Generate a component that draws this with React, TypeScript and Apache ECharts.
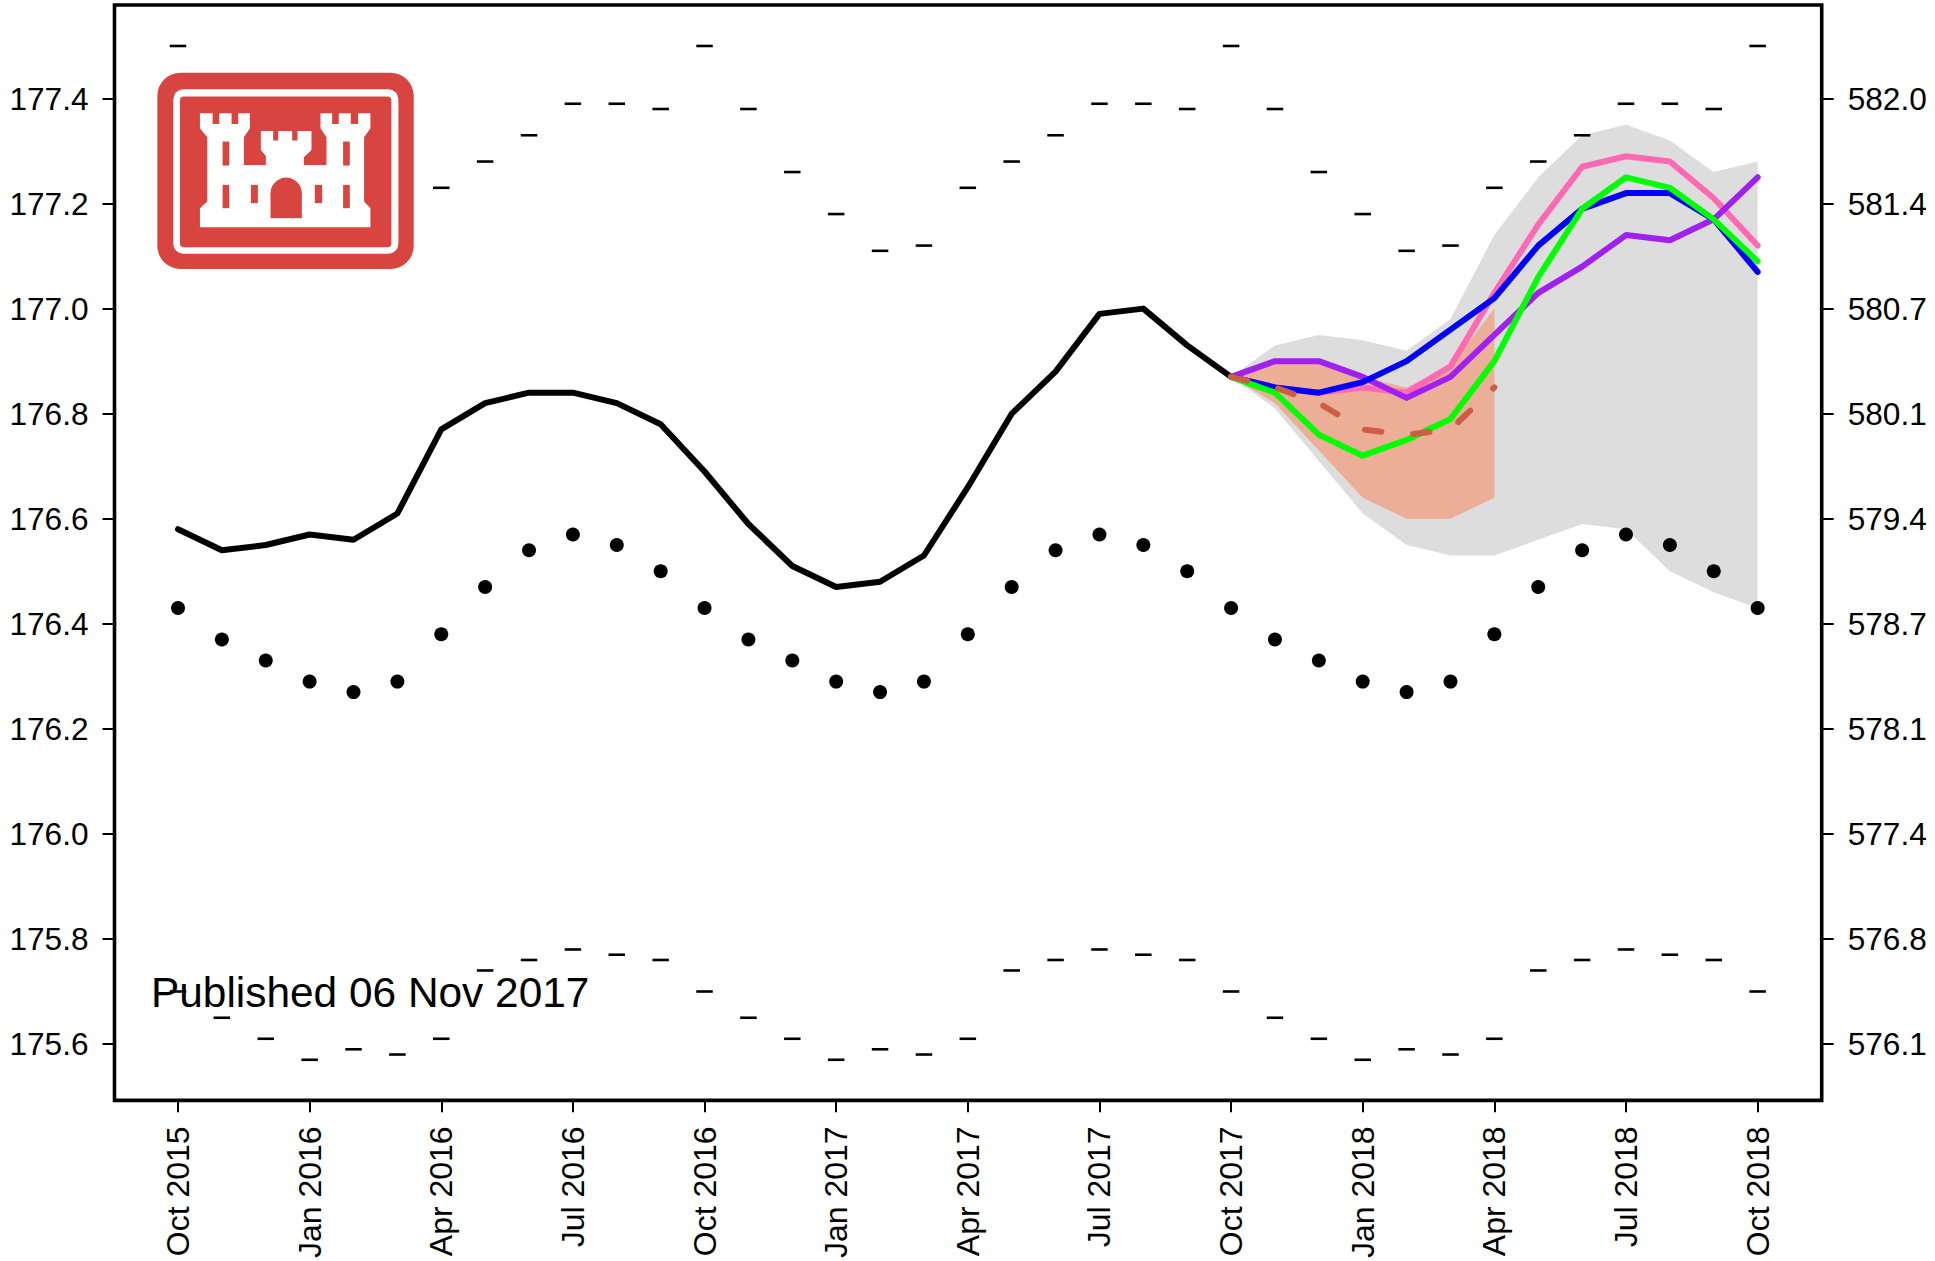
import React, { useEffect, useRef } from "react";
import * as echarts from "echarts";

const FONT = "'Liberation Sans', Arial, sans-serif";
const monthLabels = ["Oct 2015","Jan 2016","Apr 2016","Jul 2016","Oct 2016","Jan 2017","Apr 2017","Jul 2017","Oct 2017","Jan 2018","Apr 2018","Jul 2018","Oct 2018"];
const xTicks = [0,3,6,9,12,15,18,21,24,27,30,33,36];
const yTicks = [175.6,175.8,176.0,176.2,176.4,176.6,176.8,177.0,177.2,177.4];
const FT = 3.28084;
const Y_MIN = 175.4928, Y_MAX = 177.578;

const observed = [176.58,176.54,176.55,176.57,176.56,176.61,176.77,176.82,176.84,176.84,176.82,176.78,176.69,176.59,176.51,176.47,176.48,176.53,176.66,176.80,176.88,176.99,177.00,176.93,176.87];
const meanYear = [176.43,176.37,176.33,176.29,176.27,176.29,176.38,176.47,176.54,176.57,176.55,176.50];
const maxYear = [177.50,177.38,177.26,177.18,177.11,177.12,177.23,177.28,177.33,177.39,177.39,177.38];
const minYear = [175.70,175.65,175.61,175.57,175.59,175.58,175.61,175.74,175.76,175.78,175.77,175.76];
const seasonal = (arr: number[]) => [...arr, ...arr, ...arr, arr[0]];

const greyUpper = [176.87,176.93,176.95,176.94,176.92,176.98,177.14,177.25,177.33,177.35,177.32,177.26,177.28];
const greyLower = [176.87,176.81,176.71,176.61,176.55,176.53,176.53,176.56,176.59,176.58,176.50,176.46,176.43];
const orangeUpper = [176.87,176.90,176.90,176.87,176.85,176.89,177.00];
const orangeLower = [176.87,176.82,176.73,176.64,176.60,176.60,176.64];

const pink = [176.87,176.85,176.84,176.85,176.84,176.89,177.03,177.16,177.27,177.29,177.28,177.21,177.12];
const purple = [176.87,176.90,176.90,176.87,176.83,176.87,176.95,177.03,177.08,177.14,177.13,177.17,177.25];
const blue = [176.87,176.85,176.84,176.86,176.90,176.96,177.02,177.12,177.19,177.22,177.22,177.17,177.07];
const green = [176.87,176.84,176.76,176.72,176.75,176.79,176.90,177.06,177.19,177.25,177.23,177.17,177.09];
const dashed = [176.87,176.85,176.82,176.77,176.76,176.77,176.85];

const START = 24;
const pts = (arr: number[], start = 0) => arr.map((v, i) => [start + i, v]);

const band = (upper: number[], lower: number[], color: string, z: number) => ({
  type: "custom",
  z,
  silent: true,
  data: [...pts(upper, START), ...pts(lower, START).reverse()],
  encode: { x: 0, y: 1 },
  renderItem: (params: any, api: any) => {
    if (params.dataIndex !== 0) return null;
    const points = [...pts(upper, START), ...pts(lower, START).reverse()].map((p) => api.coord(p));
    return { type: "polygon", shape: { points }, style: { fill: color, stroke: "none" } };
  },
});

const line = (data: number[][], color: string, z: number, extra: any = {}) => ({
  type: "line",
  z,
  data,
  symbol: "none",
  silent: true,
  lineStyle: { color, width: 6, join: "round", cap: "round", opacity: 1, ...extra },
});

const marks = (arr: number[], symbol: string, size: any, z: number) => ({
  type: "scatter",
  z,
  silent: true,
  data: pts(arr),
  symbol,
  symbolSize: size,
  itemStyle: { color: "#000", opacity: 1 },
});

const RED = "#D8443F";
const castle = [
  [210,190],[248,190],[248,222],[268,222],[268,190],[305,190],[305,222],[325,222],[325,190],[360,190],[360,235],[342,262],[342,345],[408,345],[408,318],[393,300],[393,243],[430,243],[430,272],[445,272],[445,243],[487,243],[487,272],[503,272],[503,243],[545,243],[545,300],[522,322],[522,345],[590,345],[590,262],[572,235],[572,190],[607,190],[607,222],[627,222],[627,190],[663,190],[663,222],[685,222],[685,190],[722,190],[722,235],[703,262],[703,455],[722,475],[722,532],[210,532],[210,475],[232,455],[232,262],[210,235],
];
const windows = [[278,275,20,72],[278,405,20,70],[363,405,21,55],[555,405,22,55],[640,275,20,72],[640,405,20,70]];
const Z = 20;

export default function App() {
  const ref = useRef<HTMLDivElement>(null);
  useEffect(() => {
    document.body.style.margin = "0";
    const chart = echarts.init(ref.current!, null, { renderer: "svg" });
    const tick = { show: true, length: 12, lineStyle: { color: "#000", width: 2 } };
    chart.setOption({
      animation: false,
      backgroundColor: "#fff",
      grid: { left: 114.5, right: 113.3, top: 5, bottom: 159.3, show: true, borderColor: "#000", borderWidth: 3.6, backgroundColor: "transparent" },
      xAxis: {
        type: "value", min: -1.447, max: 37.46, splitLine: { show: false },
        axisLine: { show: false, onZero: false },
        axisTick: { ...tick, customValues: xTicks },
        axisLabel: { rotate: 90, margin: 26, color: "#000", fontFamily: FONT, fontSize: 32, customValues: xTicks, hideOverlap: false,
          formatter: (v: number) => monthLabels[xTicks.indexOf(Math.round(v))] ?? "" },
      },
      yAxis: [
        { type: "value", min: Y_MIN, max: Y_MAX, splitLine: { show: false }, axisLine: { show: false, onZero: false },
          axisTick: { ...tick, customValues: yTicks },
          axisLabel: { margin: 26, color: "#000", fontFamily: FONT, fontSize: 31.6, customValues: yTicks, formatter: (v: number) => v.toFixed(1) } },
        { type: "value", position: "right", min: Y_MIN * FT, max: Y_MAX * FT, splitLine: { show: false }, axisLine: { show: false, onZero: false },
          axisTick: { ...tick, customValues: yTicks.map((v) => v * FT) },
          axisLabel: { margin: 26, color: "#000", fontFamily: FONT, fontSize: 31.6, customValues: yTicks.map((v) => v * FT), formatter: (v: number) => v.toFixed(1) } },
      ],
      series: [
        band(greyUpper, greyLower, "#DDDDDD", 1),
        band(orangeUpper, orangeLower, "#EDAE97", 2),
        marks(seasonal(maxYear), "rect", [16.5, 2.6], 3),
        marks(seasonal(minYear), "rect", [16.5, 2.6], 3),
        marks(seasonal(meanYear), "circle", 14, 3),
        line(pts(observed), "#000", 4),
        line(pts(pink, START), "#FF69B4", 5),
        line(pts(purple, START), "#A020F0", 6),
        line(pts(blue, START), "#0000FF", 7),
        line(pts(green, START), "#00FF00", 8),
        line(pts(dashed, START), "#CB5E45", 9, { type: [16.5, 31.9], cap: "round" }),
      ],
      graphic: [
        { type: "text", z: Z, x: 151, y: 971, style: { text: "Published 06 Nov 2017", font: `42.4px ${FONT}`, fill: "#000" } },
        {
          type: "group", x: 130, y: 50, scaleX: 1 / 3, scaleY: 1 / 3,
          children: [
            { type: "rect", z: Z, shape: { x: 82, y: 68, width: 770, height: 590, r: 70 }, style: { fill: RED } },
            { type: "rect", z: Z + 1, shape: { x: 130, y: 118, width: 676, height: 494, r: 30 }, style: { fill: "#fff" } },
            { type: "rect", z: Z + 2, shape: { x: 150, y: 140, width: 635, height: 452, r: 12 }, style: { fill: RED } },
            { type: "polygon", z: Z + 3, shape: { points: castle }, style: { fill: "#fff" } },
            ...windows.map(([x, y, width, height]) => ({ type: "rect", z: Z + 4, shape: { x, y, width, height }, style: { fill: RED } })),
            { type: "rect", z: Z + 4, shape: { x: 422, y: 430, width: 94, height: 75 }, style: { fill: RED } },
            { type: "circle", z: Z + 4, shape: { cx: 469, cy: 430, r: 47 }, style: { fill: RED } },
          ],
        },
      ],
    });
    return () => chart.dispose();
  }, []);
  return <div ref={ref} style={{ position: "absolute", left: 0, top: 0, width: 1935, height: 1261 }} />;
}
